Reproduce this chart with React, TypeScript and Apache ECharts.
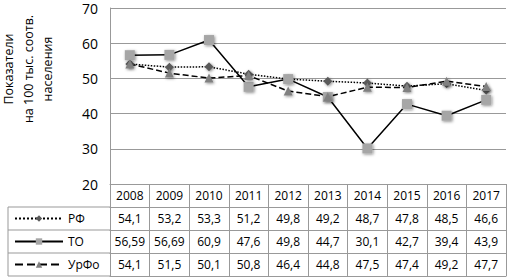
import React, { useEffect, useRef } from "react";
import * as echarts from "echarts";

const years = ["2008", "2009", "2010", "2011", "2012", "2013", "2014", "2015", "2016", "2017"];
const seriesNames = ["РФ", "ТО", "УрФо"];
const rf = [54.1, 53.2, 53.3, 51.2, 49.8, 49.2, 48.7, 47.8, 48.5, 46.6];
const to = [56.59, 56.69, 60.9, 47.6, 49.8, 44.7, 30.1, 42.7, 39.4, 43.9];
const urfo = [54.1, 51.5, 50.1, 50.8, 46.4, 44.8, 47.5, 47.4, 49.2, 47.7];
const yTicks = [20, 30, 40, 50, 60, 70];
const yTitle = "Показатели\nна 100 тыс. соотв.\nнаселения";

const FONT = "'Open Sans', sans-serif";
const GRID_LEFT = 110;
const GRID_RIGHT = 2;
const GRID_TOP = 8;
const PLOT_BOTTOM = 184;
const ROW_H = 23;
const LINE_C = "#999999";

const fmt = (v: number) => String(v).replace(".", ",");

export default function App() {
  const ref = useRef<HTMLDivElement>(null);
  useEffect(() => {
    if (!ref.current) return;
    const chart = echarts.init(ref.current, undefined, { renderer: "svg" });
    const H = 278;
    const rows = [years, rf.map(fmt), to.map(fmt), urfo.map(fmt)];
    const xAxes: any[] = rows.map((d, k) => ({
      type: "category",
      data: d,
      position: "bottom",
      offset: k * ROW_H,
      boundaryGap: true,
      axisLine: { show: true, lineStyle: { color: LINE_C, width: 1 } },
      axisTick: { show: true, interval: 0, length: ROW_H, lineStyle: { color: LINE_C, width: 1 } },
      axisLabel: {
        show: true,
        interval: 0,
        margin: ROW_H / 2,
        verticalAlign: "middle",
        fontFamily: FONT,
        fontSize: 12,
        color: "#000",
      },
      splitLine: { show: false },
    }));
    xAxes.push({
      type: "category",
      data: years,
      position: "bottom",
      offset: 4 * ROW_H,
      axisLine: { show: true, lineStyle: { color: LINE_C, width: 1 } },
      axisTick: { show: false },
      axisLabel: { show: false },
    });
    const shadow = { shadowBlur: 3, shadowColor: "rgba(0,0,0,0.45)", shadowOffsetX: 1, shadowOffsetY: 1 };
    const legendLines: any[] = [];
    for (let k = 1; k <= 4; k++) {
      legendLines.push({
        type: "line",
        shape: { x1: 8, y1: PLOT_BOTTOM + k * ROW_H, x2: GRID_LEFT, y2: PLOT_BOTTOM + k * ROW_H },
        style: { stroke: LINE_C, lineWidth: 1 },
      });
    }
    legendLines.push({
      type: "line",
      shape: { x1: 8, y1: PLOT_BOTTOM + ROW_H, x2: 8, y2: PLOT_BOTTOM + 4 * ROW_H },
      style: { stroke: LINE_C, lineWidth: 1 },
    });
    const legends = seriesNames.map((name, k) => ({
      orient: "horizontal",
      left: 14,
      top: PLOT_BOTTOM + (k + 1) * ROW_H + ROW_H / 2 - 9,
      height: 18,
      padding: 0,
      itemWidth: 48,
      itemHeight: 8,
      textStyle: { fontFamily: FONT, fontSize: 12, color: "#000", lineHeight: 18 },
      data: [name],
    }));
    chart.setOption({
      animation: false,
      grid: { left: GRID_LEFT, right: GRID_RIGHT, top: GRID_TOP, bottom: H - PLOT_BOTTOM, containLabel: false },
      legend: legends,
      xAxis: xAxes,
      yAxis: {
        type: "value",
        min: yTicks[0],
        max: yTicks[yTicks.length - 1],
        interval: 10,
        axisLine: { show: true, lineStyle: { color: LINE_C, width: 1 } },
        axisTick: { show: false },
        splitLine: { show: true, lineStyle: { color: LINE_C, width: 1 } },
        axisLabel: { fontFamily: FONT, fontSize: 14, lineHeight: 14, color: "#000", margin: 12 },
      },
      graphic: [
        {
          type: "text",
          x: 28,
          y: 69,
          rotation: Math.PI / 2,
          style: {
            text: yTitle,
            fontFamily: FONT,
            fontSize: 12.5,
            lineHeight: 19.5,
            fill: "#000",
            align: "center",
            verticalAlign: "middle",
          },
        },
        ...legendLines,
      ],
      series: [
        {
          name: seriesNames[0],
          type: "line",
          data: rf,
          symbol: "diamond",
          symbolSize: 9,
          lineStyle: { color: "#000", width: 1.5, type: "dotted" },
          itemStyle: { color: "#5a5a5a", ...shadow },
        },
        {
          name: seriesNames[1],
          type: "line",
          data: to,
          symbol: "rect",
          symbolSize: 10,
          lineStyle: { color: "#000", width: 1.5, type: "solid" },
          itemStyle: { color: "#a6a6a6", ...shadow },
        },
        {
          name: seriesNames[2],
          type: "line",
          data: urfo,
          symbol: "triangle",
          symbolSize: 9,
          lineStyle: { color: "#000", width: 1.5, type: "dashed" },
          itemStyle: { color: "#808080", ...shadow },
        },
      ],
    });
    return () => chart.dispose();
  }, []);
  return (
    <div
      ref={ref}
      style={{ position: "absolute", left: 0, top: 0, width: 508, height: 278, background: "#fff" }}
    />
  );
}
